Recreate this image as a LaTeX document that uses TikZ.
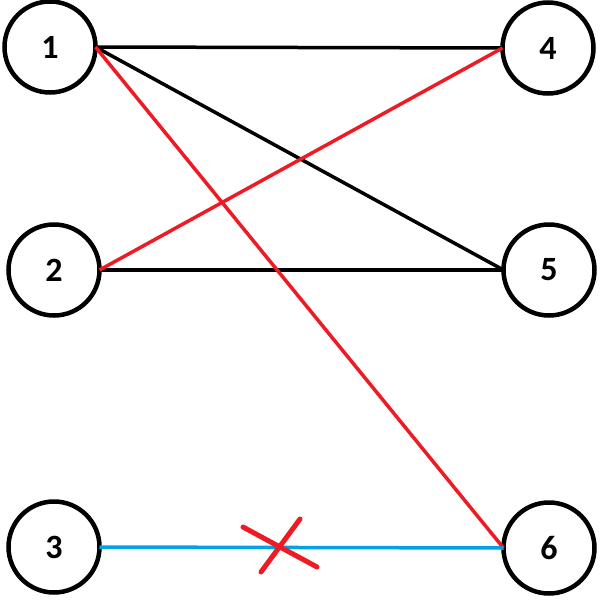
\documentclass[tikz,border=0pt]{standalone}
\usepackage{fontspec}
\setmainfont{Carlito}

\definecolor{paintred}{RGB}{237,28,36}
\definecolor{paintblue}{RGB}{0,162,232}

\tikzset{
  vertex/.style={circle, draw=black, line width=4.5pt, minimum size=91pt,
    inner sep=0pt, outer sep=0pt, font=\fontsize{34}{36}\selectfont\bfseries},
  edge/.style={line width=3.5pt},
}

\begin{document}
\begin{tikzpicture}[x=1pt, y=-1pt]

\useasboundingbox (0,0) rectangle (600,600);

% ---------- Wierzcholki lewe ----------
\node[vertex] (v1) at (50,47) {1};
\node[vertex] (v2) at (54,270) {2};
\node[vertex] (v3) at (54,547) {3};

% ---------- Wierzcholki prawe ----------
\node[vertex] (v4) at (548,48) {4};
\node[vertex] (v5) at (549,270) {5};
\node[vertex] (v6) at (549,548) {6};

% ---------- Krawedzie czarne ----------
\draw[edge, black] (v1.east) -- (v4.west);
\draw[edge, black] (v1.east) -- (v5.west);
\draw[edge, black] (v2.east) -- (v5.west);

% ---------- Krawedzie czerwone ----------
\draw[edge, paintred] (v1.east) -- (v6.west);
\draw[edge, paintred] (v2.east) -- (v4.west);

% ---------- Krawedz niebieska (skreslona) ----------
\draw[edge, paintblue] (v3.east) -- (v6.west);

% ---------- Krzyzyk ----------
\coordinate (xa) at (243,527);
\coordinate (xb) at (317,567);
\coordinate (xc) at (300,519);
\coordinate (xd) at (261,572);
\draw[paintred, line width=5pt, line cap=round] (xa) -- (xb);
\draw[paintred, line width=5pt, line cap=round] (xc) -- (xd);

\end{tikzpicture}
\end{document}
